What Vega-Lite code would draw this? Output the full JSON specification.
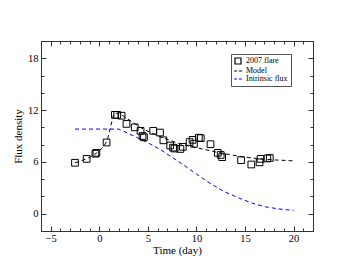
{
  "$schema": "https://vega.github.io/schema/vega-lite/v6.json",
  "width": 272,
  "height": 190,
  "autosize": {"type": "none"},
  "padding": {"left": 41, "top": 41, "right": 40, "bottom": 42},
  "background": "white",
  "config": {
    "view": {"stroke": "#333", "strokeWidth": 1},
    "font": "Liberation Serif",
    "axis": {"grid": false, "domain": false, "tickColor": "#333", "tickWidth": 1, "labelFont": "Liberation Serif", "titleFont": "Liberation Serif", "labelFontSize": 10.5, "titleFontSize": 11, "titleFontWeight": "normal", "labelColor": "black", "titleColor": "black"}
  },
  "data": {"values": [
    {"series": "2007 flare", "t": -2.5, "flux": 5.9},
    {"series": "2007 flare", "t": -1.3, "flux": 6.35},
    {"series": "2007 flare", "t": -0.4, "flux": 6.95},
    {"series": "2007 flare", "t": -0.3, "flux": 7.05},
    {"series": "2007 flare", "t": 0.75, "flux": 8.25},
    {"series": "2007 flare", "t": 1.6, "flux": 11.45},
    {"series": "2007 flare", "t": 1.85, "flux": 11.45},
    {"series": "2007 flare", "t": 2.3, "flux": 11.35},
    {"series": "2007 flare", "t": 2.8, "flux": 10.4},
    {"series": "2007 flare", "t": 3.65, "flux": 10.0},
    {"series": "2007 flare", "t": 4.25, "flux": 9.6},
    {"series": "2007 flare", "t": 4.45, "flux": 9.0},
    {"series": "2007 flare", "t": 4.6, "flux": 8.85},
    {"series": "2007 flare", "t": 5.55, "flux": 9.6},
    {"series": "2007 flare", "t": 6.25, "flux": 9.4},
    {"series": "2007 flare", "t": 6.6, "flux": 8.5},
    {"series": "2007 flare", "t": 7.3, "flux": 7.9},
    {"series": "2007 flare", "t": 7.6, "flux": 7.65},
    {"series": "2007 flare", "t": 7.75, "flux": 7.55},
    {"series": "2007 flare", "t": 8.35, "flux": 7.5},
    {"series": "2007 flare", "t": 8.6, "flux": 7.75},
    {"series": "2007 flare", "t": 9.3, "flux": 8.3},
    {"series": "2007 flare", "t": 9.6, "flux": 8.55},
    {"series": "2007 flare", "t": 9.75, "flux": 8.1},
    {"series": "2007 flare", "t": 10.25, "flux": 8.8},
    {"series": "2007 flare", "t": 10.45, "flux": 8.75},
    {"series": "2007 flare", "t": 11.45, "flux": 8.05},
    {"series": "2007 flare", "t": 12.2, "flux": 7.05},
    {"series": "2007 flare", "t": 12.5, "flux": 6.8},
    {"series": "2007 flare", "t": 12.65, "flux": 6.55},
    {"series": "2007 flare", "t": 14.6, "flux": 6.2},
    {"series": "2007 flare", "t": 15.65, "flux": 5.7},
    {"series": "2007 flare", "t": 16.5, "flux": 5.95},
    {"series": "2007 flare", "t": 16.6, "flux": 6.35},
    {"series": "2007 flare", "t": 17.3, "flux": 6.4},
    {"series": "2007 flare", "t": 17.55, "flux": 6.45},
    {"series": "Model", "t": -2.5, "flux": 5.9},
    {"series": "Model", "t": -1.3, "flux": 6.35},
    {"series": "Model", "t": -0.3, "flux": 7.0},
    {"series": "Model", "t": 0.3, "flux": 7.6},
    {"series": "Model", "t": 0.8, "flux": 8.4},
    {"series": "Model", "t": 1.5, "flux": 11.6},
    {"series": "Model", "t": 1.9, "flux": 11.65},
    {"series": "Model", "t": 2.5, "flux": 11.3},
    {"series": "Model", "t": 3.3, "flux": 10.7},
    {"series": "Model", "t": 4.2, "flux": 10.0},
    {"series": "Model", "t": 5.2, "flux": 9.45},
    {"series": "Model", "t": 6.3, "flux": 8.9},
    {"series": "Model", "t": 7.5, "flux": 8.4},
    {"series": "Model", "t": 8.6, "flux": 8.0},
    {"series": "Model", "t": 10.0, "flux": 7.65},
    {"series": "Model", "t": 11.0, "flux": 7.4},
    {"series": "Model", "t": 12.2, "flux": 7.1},
    {"series": "Model", "t": 13.4, "flux": 6.85},
    {"series": "Model", "t": 14.6, "flux": 6.6},
    {"series": "Model", "t": 15.8, "flux": 6.45},
    {"series": "Model", "t": 17.0, "flux": 6.32},
    {"series": "Model", "t": 18.2, "flux": 6.22},
    {"series": "Model", "t": 19.2, "flux": 6.17},
    {"series": "Model", "t": 20.0, "flux": 6.12},
    {"series": "Intrinsic flux", "t": -2.5, "flux": 9.8},
    {"series": "Intrinsic flux", "t": 2.0, "flux": 9.8},
    {"series": "Intrinsic flux", "t": 3.0, "flux": 9.3},
    {"series": "Intrinsic flux", "t": 4.2, "flux": 8.65},
    {"series": "Intrinsic flux", "t": 5.2, "flux": 8.1},
    {"series": "Intrinsic flux", "t": 6.25, "flux": 7.45},
    {"series": "Intrinsic flux", "t": 7.4, "flux": 6.6},
    {"series": "Intrinsic flux", "t": 8.6, "flux": 5.7},
    {"series": "Intrinsic flux", "t": 10.0, "flux": 4.6},
    {"series": "Intrinsic flux", "t": 11.3, "flux": 3.6},
    {"series": "Intrinsic flux", "t": 12.8, "flux": 2.6},
    {"series": "Intrinsic flux", "t": 14.4, "flux": 1.8},
    {"series": "Intrinsic flux", "t": 15.8, "flux": 1.2},
    {"series": "Intrinsic flux", "t": 17.1, "flux": 0.8},
    {"series": "Intrinsic flux", "t": 18.5, "flux": 0.55},
    {"series": "Intrinsic flux", "t": 20.0, "flux": 0.38}
  ]},
  "resolve": {"axis": {"x": "independent", "y": "independent"}},
  "layer": [
    {
      "transform": [{"filter": "datum.series === 'Model'"}],
      "mark": {"type": "line", "strokeWidth": 1, "strokeDash": [4, 3]},
      "encoding": {
        "x": {"field": "t", "type": "quantitative", "scale": {"domain": [-6, 22], "nice": false, "zero": false},
              "axis": {"orient": "bottom", "values": [-6,-5,-4,-3,-2,-1,0,1,2,3,4,5,6,7,8,9,10,11,12,13,14,15,16,17,18,19,20,21,22], "tickSize": -3, "labels": false, "title": null}},
        "y": {"field": "flux", "type": "quantitative", "scale": {"domain": [-2, 20], "nice": false, "zero": false},
              "axis": {"orient": "left", "values": [-2,0,2,4,6,8,10,12,14,16,18,20], "tickSize": -3, "labels": false, "title": null}},
        "color": {"field": "series", "type": "nominal"}
      }
    },
    {
      "transform": [{"filter": "datum.series === 'Intrinsic flux'"}],
      "mark": {"type": "line", "strokeWidth": 1, "strokeDash": [4, 3]},
      "encoding": {
        "x": {"field": "t", "type": "quantitative",
              "axis": {"orient": "top", "values": [-5, 0, 5, 10, 15, 20], "tickSize": -5, "labels": false, "title": null}},
        "y": {"field": "flux", "type": "quantitative",
              "axis": {"orient": "right", "values": [0, 6, 12, 18], "tickSize": -5, "labels": false, "title": null}},
        "color": {"field": "series", "type": "nominal"}
      }
    },
    {
      "transform": [{"filter": "datum.series === '2007 flare'"}],
      "mark": {"type": "point", "opacity": 0},
      "encoding": {
        "x": {"field": "t", "type": "quantitative",
              "axis": {"orient": "top", "values": [-6,-5,-4,-3,-2,-1,0,1,2,3,4,5,6,7,8,9,10,11,12,13,14,15,16,17,18,19,20,21,22], "tickSize": -3, "labels": false, "title": null}},
        "y": {"field": "flux", "type": "quantitative",
              "axis": {"orient": "right", "values": [-2,0,2,4,6,8,10,12,14,16,18,20], "tickSize": -3, "labels": false, "title": null}}
      }
    },
    {
      "transform": [{"filter": "datum.series === '2007 flare'"}],
      "mark": {"type": "point", "filled": false, "strokeWidth": 1, "size": 45, "opacity": 1},
      "encoding": {
        "x": {"field": "t", "type": "quantitative",
              "axis": {"orient": "bottom", "values": [-5, 0, 5, 10, 15, 20], "tickSize": -5, "labelPadding": 7, "title": "Time (day)", "titlePadding": 1}},
        "y": {"field": "flux", "type": "quantitative",
              "axis": {"orient": "left", "values": [0, 6, 12, 18], "tickSize": -5, "labelPadding": 8, "title": "Flux density", "titlePadding": 4}},
        "color": {"field": "series", "type": "nominal",
                  "scale": {"domain": ["2007 flare", "Model", "Intrinsic flux"], "range": ["black", "black", "blue"]},
                  "legend": {"orient": "none", "legendX": 190, "legendY": 13, "title": null, "strokeColor": "#555", "fillColor": "white", "padding": 3, "labelFont": "Liberation Serif", "labelFontSize": 8, "labelColor": "black", "symbolSize": 36, "rowPadding": 0, "labelOffset": 4, "symbolStrokeWidth": 1.2}},
        "shape": {"field": "series", "type": "nominal",
                  "scale": {"domain": ["2007 flare", "Model", "Intrinsic flux"], "range": ["square", "M-1.3,0H-0.3M0.3,0H1.3", "M-1.3,0H-0.3M0.3,0H1.3"]},
                  "legend": {"orient": "none", "legendX": 190, "legendY": 13, "title": null}}
      }
    }
  ]
}
